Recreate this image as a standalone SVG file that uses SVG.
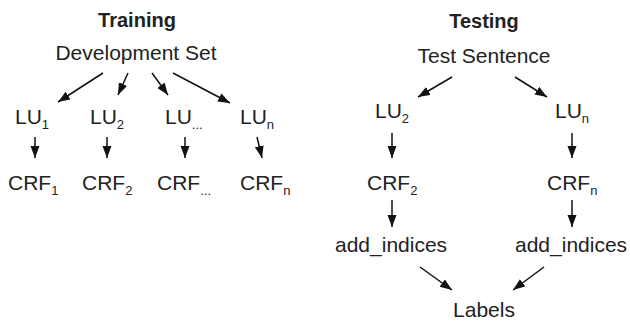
<svg xmlns="http://www.w3.org/2000/svg" width="630" height="323" viewBox="0 0 630 323">
<style>
text{font-family:"Liberation Sans",Arial,sans-serif;font-size:21px;fill:#222}
.t{font-weight:bold;font-size:20px}
.c{text-anchor:middle}
.s{font-size:13px}
.e line{stroke:#111;stroke-width:1.5;marker-end:url(#a)}
</style>
<defs>
<marker id="a" markerUnits="userSpaceOnUse" markerWidth="13" markerHeight="10" refX="12" refY="4.5" orient="auto">
<path d="M0,0 L12,4.5 L0,9 z" fill="#111"/>
</marker>
</defs>
<rect width="630" height="323" fill="#fff"/>
<g id="training"><text class="t c" x="137" y="27">Training</text></g>
<g id="devset"><text class="c" x="136" y="60">Development Set</text></g>
<g id="lu1"><text x="15" y="124">LU<tspan class="s" dy="5">1</tspan></text></g>
<g id="lu2"><text x="90" y="124">LU<tspan class="s" dy="5">2</tspan></text></g>
<g id="lud"><text x="165" y="124">LU<tspan class="s" dy="5">...</tspan></text></g>
<g id="lun"><text x="240" y="124">LU<tspan class="s" dy="5">n</tspan></text></g>
<g id="crf1"><text x="8" y="190">CRF<tspan class="s" dy="5">1</tspan></text></g>
<g id="crf2"><text x="82" y="190">CRF<tspan class="s" dy="5">2</tspan></text></g>
<g id="crfd"><text x="157" y="190">CRF<tspan class="s" dy="5">...</tspan></text></g>
<g id="crfn"><text x="240" y="190">CRF<tspan class="s" dy="5">n</tspan></text></g>
<g id="testing"><text class="t c" x="484" y="28">Testing</text></g>
<g id="testsent"><text class="c" x="484" y="63">Test Sentence</text></g>
<g id="tlu2"><text x="375" y="118">LU<tspan class="s" dy="5">2</tspan></text></g>
<g id="tlun"><text x="555" y="118">LU<tspan class="s" dy="5">n</tspan></text></g>
<g id="tcrf2"><text x="367" y="190">CRF<tspan class="s" dy="5">2</tspan></text></g>
<g id="tcrfn"><text x="547" y="190">CRF<tspan class="s" dy="5">n</tspan></text></g>
<g id="add1"><text x="335" y="252">add_indices</text></g>
<g id="add2"><text x="515" y="252">add_indices</text></g>
<g id="labels"><text class="c" x="484" y="317">Labels</text></g>
<g id="connectors" class="e">
<line x1="103" y1="73" x2="58" y2="102"/>
<line x1="128" y1="73" x2="118" y2="95"/>
<line x1="152" y1="73" x2="168" y2="95"/>
<line x1="173" y1="73" x2="230" y2="103"/>
<line x1="35" y1="137" x2="35" y2="158"/>
<line x1="107" y1="137" x2="107" y2="158"/>
<line x1="185" y1="137" x2="185" y2="158"/>
<line x1="257" y1="137" x2="262" y2="158"/>
<line x1="452" y1="77" x2="418" y2="97"/>
<line x1="515" y1="77" x2="547" y2="97"/>
<line x1="392" y1="133" x2="392" y2="158"/>
<line x1="572" y1="133" x2="572" y2="158"/>
<line x1="392" y1="200" x2="392" y2="227"/>
<line x1="572" y1="200" x2="572" y2="227"/>
<line x1="420" y1="267" x2="452" y2="290"/>
<line x1="544" y1="267" x2="513" y2="290"/>
</g>
</svg>
